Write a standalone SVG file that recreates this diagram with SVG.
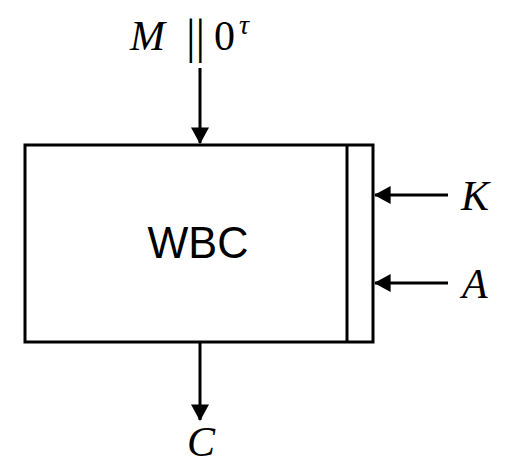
<svg xmlns="http://www.w3.org/2000/svg" width="515" height="466" viewBox="0 0 515 466">
<style>
.ln{stroke:#000;stroke-width:3;fill:none}
.math{font-family:"Liberation Serif","DejaVu Serif",serif;font-style:italic;font-size:42px;fill:#000}
.up{font-style:normal}
.lbl{font-family:"Liberation Sans",Arial,sans-serif;font-size:44px;fill:#000}
</style>
<defs>
<marker id="ah" markerWidth="6" markerHeight="6" refX="5.2" refY="3" orient="auto" markerUnits="strokeWidth">
<path d="M0,0 L5.5,3 L0,6 Z" fill="#000"/>
</marker>
</defs>
<rect width="515" height="466" fill="#fff"/>
<g id="wbc">
<rect class="ln" x="25" y="145" width="348" height="197"/>
<line class="ln" x1="347" y1="145" x2="347" y2="342"/>
<text class="lbl" x="198" y="258" text-anchor="middle" textLength="101" lengthAdjust="spacingAndGlyphs">WBC</text>
</g>
<g id="input">
<text class="math" y="50"><tspan x="130">M</tspan><tspan class="up" x="186" font-size="48" y="53">||</tspan><tspan class="up" x="214" y="50">0</tspan><tspan x="239" y="34" font-size="28">τ</tspan></text>
</g>
<g id="key"><text class="math" x="461" y="210">K</text></g>
<g id="ad"><text class="math" x="462" y="298">A</text></g>
<g id="output"><text class="math" x="187" y="456" font-size="40">C</text></g>
<g id="connectors">
<line class="ln" x1="200" y1="68" x2="200" y2="143" marker-end="url(#ah)"/>
<line class="ln" x1="448" y1="195" x2="375" y2="195" marker-end="url(#ah)"/>
<line class="ln" x1="448" y1="283" x2="375" y2="283" marker-end="url(#ah)"/>
<line class="ln" x1="200" y1="342" x2="200" y2="420" marker-end="url(#ah)"/>
</g>
</svg>
